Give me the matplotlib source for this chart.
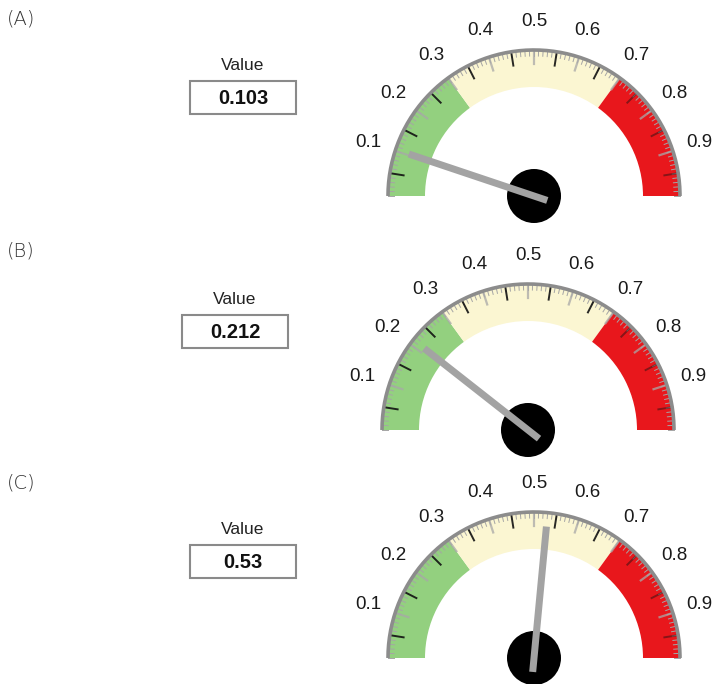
import numpy as np
import matplotlib
matplotlib.use('Agg')
import matplotlib.pyplot as plt
from matplotlib.patches import Wedge, Circle, Rectangle, Polygon

plt.rcParams['font.family'] = ['Liberation Sans', 'DejaVu Sans']

# gauge readings for the three panels
panel_names = ['(A)', '(B)', '(C)']
readings = [0.103, 0.212, 0.53]
reading_text = ['0.103', '0.212', '0.53']

# dial scale
scale_labels = ['0.1', '0.2', '0.3', '0.4', '0.5', '0.6', '0.7', '0.8', '0.9']
scale_values = [0.1, 0.2, 0.3, 0.4, 0.5, 0.6, 0.7, 0.8, 0.9]
zone_edges = [0.0, 0.3, 0.7, 1.0]
zone_colors = ['#93d07f', '#fbf6d2', '#e8171c']

# layout in pixels (y downwards)
W, H = 713, 684
centers = [(534, 196), (528, 430), (534, 658)]
boxes = [(190, 81, 106, 33), (182, 315, 106, 33), (190, 545, 106, 33)]
name_pos = [(7, 19), (7, 251), (7, 483)]
R_OUT, R_IN, R_LAB = 146, 109, 174


def ang(v):
    # angle in data coords (y axis inverted): 0 -> left, 1 -> right
    return np.pi + np.pi * v


def pt(c, r, v):
    a = ang(v)
    return c[0] + r * np.cos(a), c[1] + r * np.sin(a)


fig = plt.figure(figsize=(W / 100, H / 100), dpi=100)
ax = fig.add_axes([0, 0, 1, 1])
ax.set_xlim(0, W)
ax.set_ylim(H, 0)
ax.axis('off')

for i, c in enumerate(centers):
    # coloured zones
    for k, col in enumerate(zone_colors):
        t1 = np.degrees(ang(zone_edges[k]))
        t2 = np.degrees(ang(zone_edges[k + 1]))
        ax.add_patch(Wedge(c, R_OUT, t1, t2, width=R_OUT - R_IN,
                           facecolor=col, edgecolor='none', zorder=1))

    # rim
    th = np.linspace(ang(0), ang(1), 200)
    ax.plot(c[0] + R_OUT * np.cos(th), c[1] + R_OUT * np.sin(th),
            color='#8c8c8c', lw=2.6, zorder=3, solid_capstyle='butt')

    # fine ticks on the rim
    for v in np.arange(0, 1.0001, 0.01):
        x0, y0 = pt(c, R_OUT - 6, v)
        x1, y1 = pt(c, R_OUT, v)
        ax.plot([x0, x1], [y0, y1], color='#a5a5a5', lw=0.7, zorder=2)

    # grey ticks on the tenths, dark ticks half way between
    for v in np.arange(0.1, 0.95, 0.1):
        x0, y0 = pt(c, R_OUT - 14, v)
        x1, y1 = pt(c, R_OUT - 2, v)
        ax.plot([x0, x1], [y0, y1], color='#a8a8a8', lw=1.6, alpha=0.75, zorder=2)
    for v in np.arange(0.05, 1.0, 0.1):
        x0, y0 = pt(c, R_OUT - 14, v)
        x1, y1 = pt(c, R_OUT - 2, v)
        a = 0.45 if v > 0.7 else 0.9
        ax.plot([x0, x1], [y0, y1], color='#111111', lw=1.4, alpha=a, zorder=2)

    # scale numbers
    for lab, v in zip(scale_labels, scale_values):
        x, y = pt(c, R_LAB, v)
        ax.text(x, y, lab, fontsize=13.5, ha='center', va='center', color='#1a1a1a')

    # needle
    a = ang(readings[i])
    d = np.array([np.cos(a), np.sin(a)])
    n = np.array([-d[1], d[0]])
    base = np.array(c) - 14 * d
    tip = np.array(c) + 132 * d
    hw = 3.5
    ax.add_patch(Circle(c, 27, facecolor='black', edgecolor='none', zorder=4))
    ax.add_patch(Polygon([base + hw * n, tip + hw * n, tip - hw * n, base - hw * n],
                         closed=True, facecolor='#a3a3a3', edgecolor='none', zorder=5))

    # value readout
    bx, by, bw, bh = boxes[i]
    ax.add_patch(Rectangle((bx, by), bw, bh, facecolor='white',
                           edgecolor='#8a8a8a', lw=1.5, zorder=2))
    ax.text(bx + bw / 2, by - 16, 'Value', fontsize=12.5, ha='center',
            va='center', color='#222222')
    ax.text(bx + bw / 2, by + bh / 2 + 1, reading_text[i], fontsize=14.5,
            fontweight='bold', ha='center', va='center', color='#111111')

    # panel letter
    ax.text(name_pos[i][0], name_pos[i][1], panel_names[i], fontsize=14,
            ha='left', va='center', color='#333333', family=['DejaVu Sans'],
            fontweight='light')

fig.savefig('out.png', dpi=100)
plt.close()
